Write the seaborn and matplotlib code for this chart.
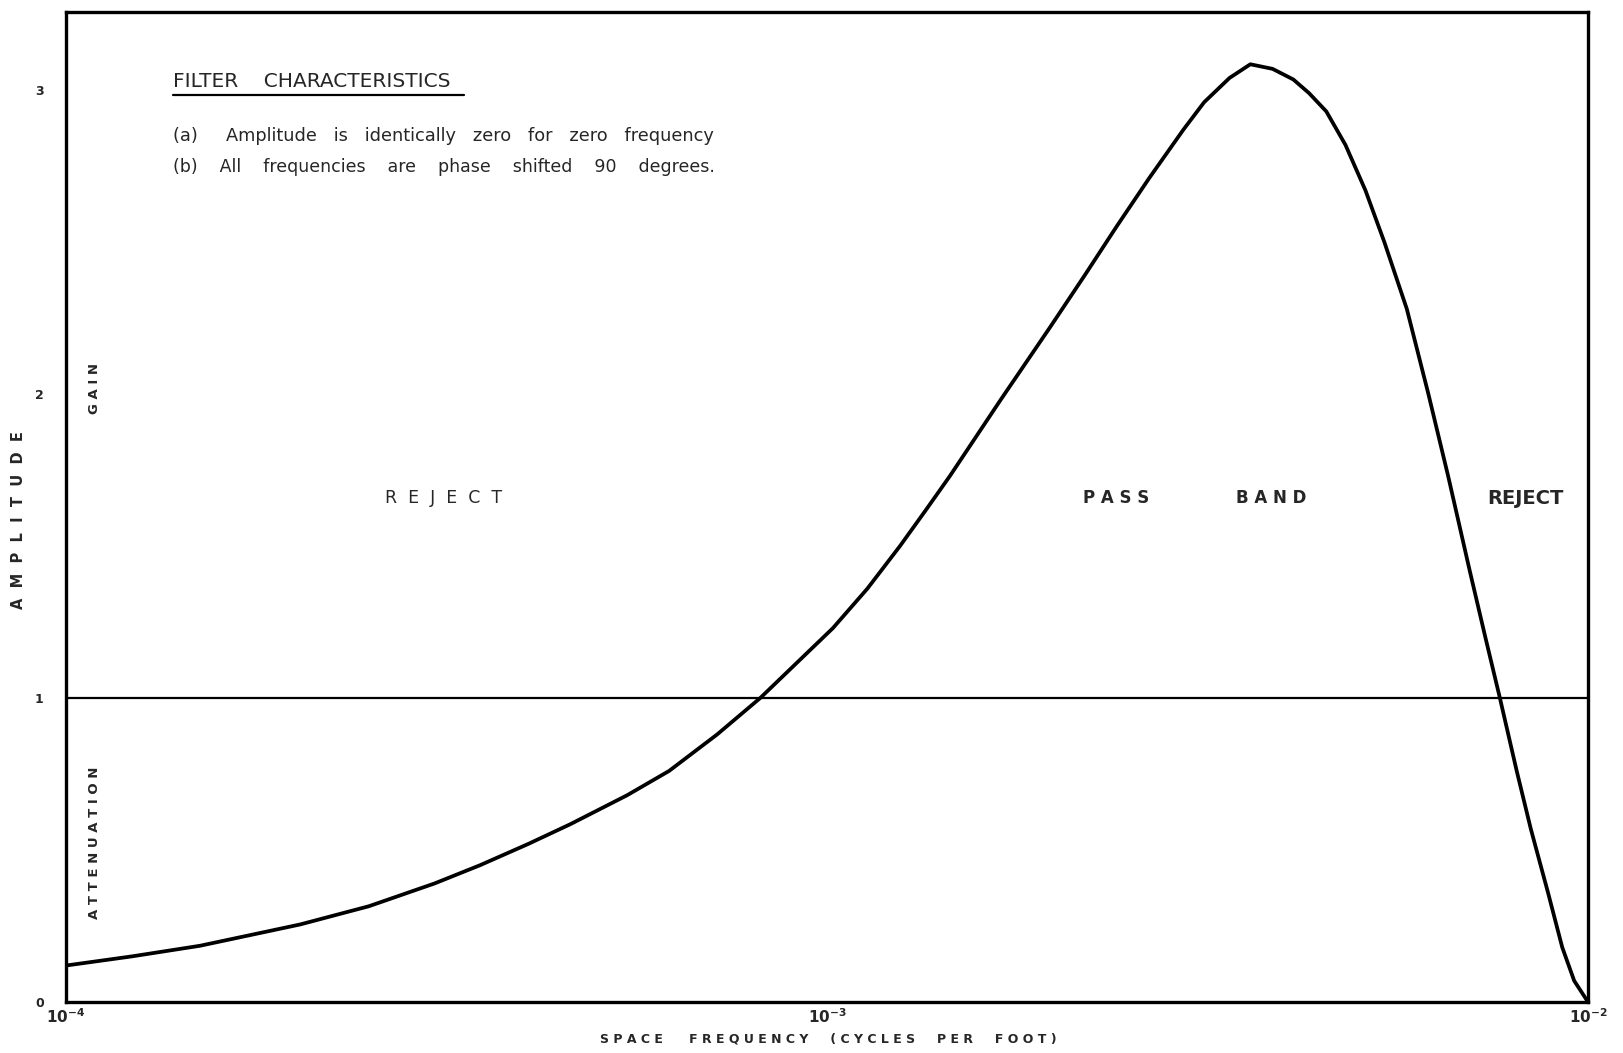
import numpy as np
import pandas as pd
import matplotlib
matplotlib.use("Agg")
import matplotlib.pyplot as plt
import seaborn as sns
from matplotlib.ticker import FixedLocator, LogLocator, NullFormatter

# Values
freq = [1.0e-4, 1.22e-4, 1.5e-4, 2.03e-4, 2.5e-4, 3.05e-4, 3.5e-4, 4.05e-4,
        4.6e-4, 5.46e-4, 6.2e-4, 7.17e-4, 8.17e-4, 1.018e-3, 1.13e-3,
        1.247e-3, 1.35e-3, 1.45e-3, 1.69e-3, 1.964e-3, 2.18e-3, 2.40e-3,
        2.65e-3, 2.94e-3, 3.13e-3, 3.38e-3, 3.6e-3, 3.85e-3, 4.1e-3, 4.3e-3,
        4.53e-3, 4.8e-3, 5.1e-3, 5.4e-3, 5.78e-3, 6.17e-3, 6.55e-3, 6.99e-3,
        7.33e-3, 7.66e-3, 8.06e-3, 8.41e-3, 8.86e-3, 9.25e-3, 9.59e-3, 1.0e-2]
amplitude = [0.12, 0.15, 0.185, 0.255, 0.315, 0.39, 0.45, 0.52,
             0.585, 0.68, 0.76, 0.88, 1.0, 1.23, 1.36,
             1.50, 1.62, 1.73, 1.98, 2.22, 2.39, 2.55,
             2.71, 2.87, 2.96, 3.04, 3.085, 3.07, 3.035, 2.99,
             2.93, 2.82, 2.67, 2.50, 2.28, 2.0, 1.73, 1.42,
             1.20, 1.0, 0.76, 0.57, 0.36, 0.18, 0.07, 0.0]

y_ticks = [0, 1, 2, 3]
y_minor = [0.5, 1.5, 2.5]
x_ticks = [1e-4, 1e-3, 1e-2]
x_labels = [r'$\mathbf{10^{-4}}$', r'$\mathbf{10^{-3}}$', r'$\mathbf{10^{-2}}$']

df = pd.DataFrame({'freq': freq, 'amplitude': amplitude})

sns.set_style('white')
plt.rcParams['font.family'] = ['DejaVu Sans']

fig = plt.figure(figsize=(16.23, 10.53), dpi=100)
ax = fig.add_axes([66 / 1623, 1 - 1002 / 1053, 1522 / 1623, 990 / 1053])

sns.lineplot(data=df, x='freq', y='amplitude', ax=ax, color='black',
             linewidth=2.7, estimator=None, sort=False)
ax.axhline(1, color='black', linewidth=1.6)

ax.set_xscale('log')
ax.set_xlim(1e-4, 1e-2)
ax.set_ylim(0, 3.257)

ax.set_xticks(x_ticks)
ax.set_xticklabels(x_labels, fontsize=11)
ax.xaxis.set_minor_locator(LogLocator(base=10, subs=np.arange(2, 10)))
ax.xaxis.set_minor_formatter(NullFormatter())
ax.set_yticks(y_ticks)
ax.set_yticklabels([str(v) for v in y_ticks], fontsize=9, fontweight='bold')
ax.yaxis.set_minor_locator(FixedLocator(y_minor))
ax.tick_params(axis='both', which='both', direction='in', color='black')
ax.tick_params(axis='both', which='major', length=8, width=1.5)
ax.tick_params(axis='x', which='major', pad=4)
ax.tick_params(axis='y', which='major', pad=16)
ax.tick_params(axis='both', which='minor', length=7, width=1.5)

for s in ax.spines.values():
    s.set_color('black')
    s.set_linewidth(2.4)

ax.set_xlabel('')
ax.set_ylabel('')

# annotations
ax.text(0.0703, 0.930, 'FILTER    CHARACTERISTICS', transform=ax.transAxes,
        fontsize=14.5, ha='left', va='center')
ax.plot([0.0703, 0.2615], [0.916, 0.916], transform=ax.transAxes,
        color='black', linewidth=1.6)
ax.text(0.0703, 0.875,
        '(a)     Amplitude   is   identically   zero   for   zero   frequency',
        transform=ax.transAxes, fontsize=12.8, ha='left', va='center')
ax.text(0.0703, 0.843,
        '(b)    All    frequencies    are    phase    shifted    90    degrees.',
        transform=ax.transAxes, fontsize=12.5, ha='left', va='center')

ax.text(0.248, 0.509, 'R  E  J  E  C  T', transform=ax.transAxes,
        fontsize=12.5, ha='center', va='center')
ax.text(0.690, 0.509, 'P A S S', transform=ax.transAxes,
        fontsize=12, fontweight='bold', ha='center', va='center')
ax.text(0.792, 0.509, 'B A N D', transform=ax.transAxes,
        fontsize=12, fontweight='bold', ha='center', va='center')
ax.text(0.9586, 0.509, 'REJECT', transform=ax.transAxes,
        fontsize=14, fontweight='bold', ha='center', va='center')

ax.text(0.019, 0.620, 'G A I N', transform=ax.transAxes, rotation=90,
        fontsize=9.5, fontweight='bold', ha='center', va='center')
ax.text(0.019, 0.161, 'A T T E N U A T I O N', transform=ax.transAxes,
        rotation=90, fontsize=9.5, fontweight='bold', ha='center', va='center')

fig.text(19 / 1623, 1 - 520 / 1053, 'A  M  P  L  I  T  U  D  E', rotation=90,
         fontsize=10.5, fontweight='bold', ha='center', va='center')
fig.text(828 / 1623, 1 - 1039 / 1053,
         'S P A C E      F R E Q U E N C Y     ( C Y C L E S     P E R     F O O T )',
         fontsize=9, fontweight='bold', ha='center', va='center')

fig.savefig('out.png', dpi=100, facecolor='white')
